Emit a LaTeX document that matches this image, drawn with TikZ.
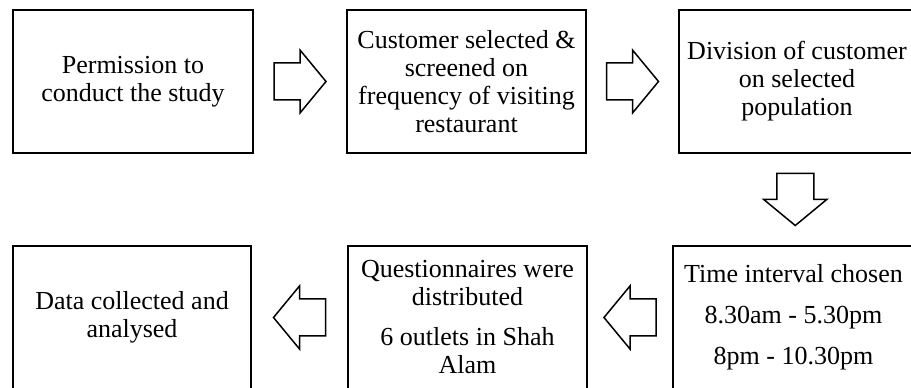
\documentclass[tikz,border=0pt]{standalone}
\usepackage{fontspec}
\setmainfont{Liberation Serif}
\usetikzlibrary{positioning, calc}
\tikzset{
    stepbox/.style={
        rectangle, draw, line width=1.8pt, align=center,
        minimum width=239pt, minimum height=143pt, inner sep=0pt,
        font=\fontsize{26}{28}\selectfont
    },
    blockarrow/.style={
        draw, line width=1.5pt, line join=miter, fill=white
    }
}
\begin{document}
\begin{tikzpicture}[x=1pt, y=1pt]
        %\draw[help lines, step=50] (0,0) grid (911,388);
        \useasboundingbox (0,0) rectangle (911,388);
        \clip (0,0) rectangle (911,388);

        \node[stepbox, minimum width=240pt] (perm)   at (133,306.5)   {Permission to\\conduct the study};
        \node[stepbox] (screen) at (466.5,306.5) {Customer selected \&\\screened on\\frequency of visiting\\restaurant};
        \node[stepbox, minimum width=236pt] (divide) at (797,306.5)   {Division of customer\\on selected\\population};

        \node[stepbox, minimum width=241pt] (interval) at (793.5,70.5) {Time interval chosen\\[13pt]8.30am - 5.30pm\\[13pt]8pm - 10.30pm};
        \node[stepbox] (distrib)  at (467.5,70.5) {Questionnaires were\\distributed\\[12pt]6 outlets in Shah\\Alam};
        \node[stepbox, minimum width=238pt] (data)     at (132,70.5)   {Data collected and\\analysed};

        % block arrows between the boxes
        \coordinate (a1) at ($(perm.east)!.5!(screen.west)$);
        \coordinate (a2) at ($(screen.east)!.5!(divide.west)$);
        \coordinate (a3) at ($(divide.south)!.5!(interval.north)$);
        \coordinate (a4) at ($(interval.west)!.5!(distrib.east)$);
        \coordinate (a5) at ($(distrib.west)!.5!(data.east)$);

        \draw[blockarrow, shift={(a1)}] (-26,-18.5) -- (0,-18.5) -- (0,-31.5) -- (26,0) -- (0,31.5) -- (0,18.5) -- (-26,18.5) -- cycle;
        \draw[blockarrow, shift={(a2)}] (-26,-18.5) -- (0,-18.5) -- (0,-31.5) -- (26,0) -- (0,31.5) -- (0,18.5) -- (-26,18.5) -- cycle;
        \draw[blockarrow, shift={(a3)}, rotate=-90] (-26,-18.5) -- (0,-18.5) -- (0,-31.5) -- (26,0) -- (0,31.5) -- (0,18.5) -- (-26,18.5) -- cycle;
        \draw[blockarrow, shift={(a4)}, rotate=180] (-26,-18.5) -- (0,-18.5) -- (0,-31.5) -- (26,0) -- (0,31.5) -- (0,18.5) -- (-26,18.5) -- cycle;
        \draw[blockarrow, shift={(a5)}, rotate=180] (-26,-18.5) -- (0,-18.5) -- (0,-31.5) -- (26,0) -- (0,31.5) -- (0,18.5) -- (-26,18.5) -- cycle;
\end{tikzpicture}
\end{document}
